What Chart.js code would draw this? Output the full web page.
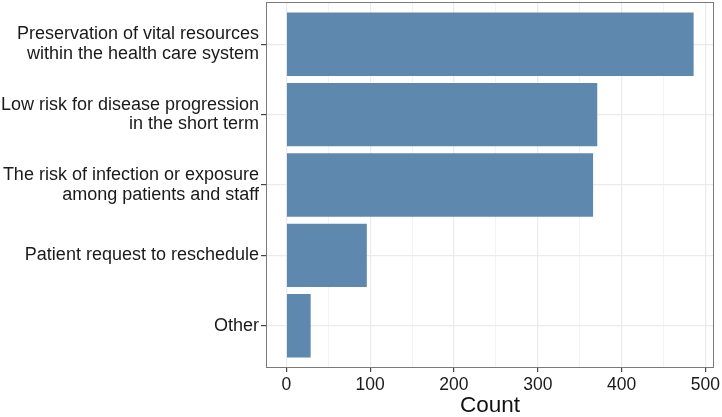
<!DOCTYPE html>
<html>
<head>
<meta charset="utf-8">
<script src="https://cdn.jsdelivr.net/npm/chart.js@4"></script>
<style>
  html, body { margin: 0; padding: 0; background: #fff; }
  #wrap { width: 722px; height: 417px; }
</style>
</head>
<body>
<div id="wrap"><canvas id="reasonsChart"></canvas></div>
<script>
// Reasons for rescheduling, top to bottom
const categories = [
  ["Preservation of vital resources", "within the health care system"],
  ["Low risk for disease progression", "in the short term"],
  ["The risk of infection or exposure", "among patients and staff"],
  "Patient request to reschedule",
  "Other",
];
const counts = [486, 371, 366, 96, 29];
const xTicks = [0, 100, 200, 300, 400, 500];

const FONT = "'Liberation Sans', Arial, Helvetica, sans-serif";

// Full panel border like ggplot's theme_bw
const panelBorder = {
  id: "panelBorder",
  afterDraw(chart) {
    const { ctx, chartArea } = chart;
    ctx.save();
    ctx.strokeStyle = "#7a7a7a";
    ctx.lineWidth = 1;
    ctx.strokeRect(chartArea.left + 0.5, chartArea.top + 0.5,
      chartArea.right - chartArea.left - 1, chartArea.bottom - chartArea.top - 1);
    ctx.restore();
  },
};

const ctx = document.getElementById("reasonsChart");
new Chart(ctx, {
  type: "bar",
  data: {
    datasets: [
      {
        data: counts.map((v, i) => ({ x: v, y: i + 1 })),
        backgroundColor: "#5f88ae",
        borderWidth: 0,
        barPercentage: 0.9,
        categoryPercentage: 1,
      },
    ],
  },
  plugins: [panelBorder],
  options: {
    indexAxis: "y",
    responsive: true,
    maintainAspectRatio: false,
    animation: false,
    layout: { padding: { top: 2, right: 8, left: 0, bottom: 0 } },
    plugins: {
      legend: { display: false },
      tooltip: { enabled: false },
    },
    scales: {
      x: {
        type: "linear",
        min: -24.3,
        max: 510.3,
        afterFit: (scale) => {
          scale.height = 49;
          scale.paddingLeft = 0;
          scale.paddingRight = 0;
        },
        ticks: {
          stepSize: 50,
          includeBounds: false,
          autoSkip: false,
          maxRotation: 0,
          padding: 3,
          color: "#1a1a1a",
          font: { family: FONT, size: 17.5 },
          callback: (value) => (xTicks.includes(value) ? String(value) : ""),
        },
        grid: {
          color: "#ebebeb",
          lineWidth: (c) => (c.tick && xTicks.includes(c.tick.value) ? 1.2 : 0.6),
          tickLength: 4,
          tickColor: (c) => (c.tick && xTicks.includes(c.tick.value) ? "#444" : "rgba(0,0,0,0)"),
        },
        border: { display: false },
        title: {
          display: true,
          text: "Count",
          color: "#111",
          font: { family: FONT, size: 22.5 },
          padding: { top: 0, bottom: -2 },
        },
      },
      y: {
        type: "linear",
        reverse: true,
        offset: false,
        min: 0.4,
        max: 5.6,
        afterFit: (scale) => {
          scale.width = 266;
          scale.paddingTop = 0;
          scale.paddingBottom = 0;
        },
        ticks: {
          stepSize: 1,
          includeBounds: false,
          autoSkip: false,
          padding: 2,
          color: "#1a1a1a",
          font: { family: FONT, size: 18, lineHeight: 1.1 },
          callback: (value) => categories[value - 1] ?? "",
        },
        grid: {
          offset: false,
          color: "#ebebeb",
          lineWidth: 1.2,
          tickLength: 5,
          tickColor: "#444",
        },
        border: { display: false },
      },
    },
  },
});
</script>
</body>
</html>
